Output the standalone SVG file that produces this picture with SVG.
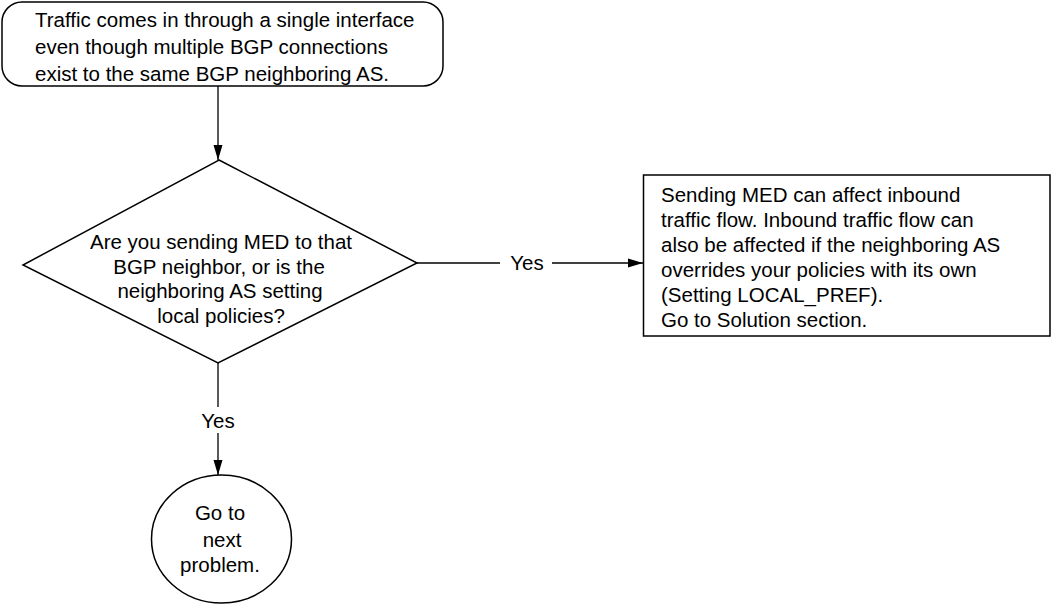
<svg xmlns="http://www.w3.org/2000/svg" width="1052" height="605" viewBox="0 0 1052 605">
<style>
.s{fill:#fff;stroke:#000;stroke-width:1.5}
.t{font-family:"Liberation Sans",Arial,sans-serif;font-size:20.5px;fill:#000}
.c{text-anchor:middle}
.l{stroke:#000;stroke-width:1.3;fill:none}
</style>
<defs>
<marker id="ah" markerWidth="15" markerHeight="10" refX="15" refY="5" orient="auto" markerUnits="userSpaceOnUse">
<path d="M0,0.5 L15,5 L0,9.5 Z" fill="#000"/>
</marker>
</defs>
<rect width="1052" height="605" fill="#fff"/>
<g id="start">
<rect class="s" x="2" y="2" width="441" height="84" rx="20"/>
<text class="t" x="35" y="27">Traffic comes in through a single interface</text>
<text class="t" x="35" y="54">even though multiple BGP connections</text>
<text class="t" x="35" y="81">exist to the same BGP neighboring AS.</text>
</g>
<g id="decision">
<polygon class="s" points="219,160 417,263 218,363 23,265"/>
<text class="t c" x="221" y="249">Are you sending MED to that</text>
<text class="t c" x="219" y="274">BGP neighbor, or is the</text>
<text class="t c" x="220" y="298">neighboring AS setting</text>
<text class="t c" x="221" y="323">local policies?</text>
</g>
<g id="solution">
<rect class="s" x="643.5" y="175" width="406.5" height="161"/>
<text class="t" x="661" y="202">Sending MED can affect inbound</text>
<text class="t" x="661" y="227">traffic flow. Inbound traffic flow can</text>
<text class="t" x="661" y="252">also be affected if the neighboring AS</text>
<text class="t" x="661" y="277">overrides your policies with its own</text>
<text class="t" x="661" y="302">(Setting LOCAL_PREF).</text>
<text class="t" x="661" y="327">Go to Solution section.</text>
</g>
<g id="next">
<ellipse class="s" cx="221.5" cy="539" rx="70" ry="64"/>
<text class="t c" x="220" y="520">Go to</text>
<text class="t c" x="222" y="547">next</text>
<text class="t c" x="220" y="572">problem.</text>
</g>
<g id="connectors">
<line class="l" x1="218" y1="86" x2="218" y2="160" marker-end="url(#ah)"/>
<line class="l" x1="417" y1="263" x2="500" y2="263"/>
<text class="t c" x="527" y="270">Yes</text>
<line class="l" x1="552" y1="263" x2="643" y2="263" marker-end="url(#ah)"/>
<line class="l" x1="218" y1="363" x2="218" y2="407"/>
<text class="t c" x="218" y="428">Yes</text>
<line class="l" x1="218" y1="433" x2="218" y2="475" marker-end="url(#ah)"/>
</g>
</svg>
